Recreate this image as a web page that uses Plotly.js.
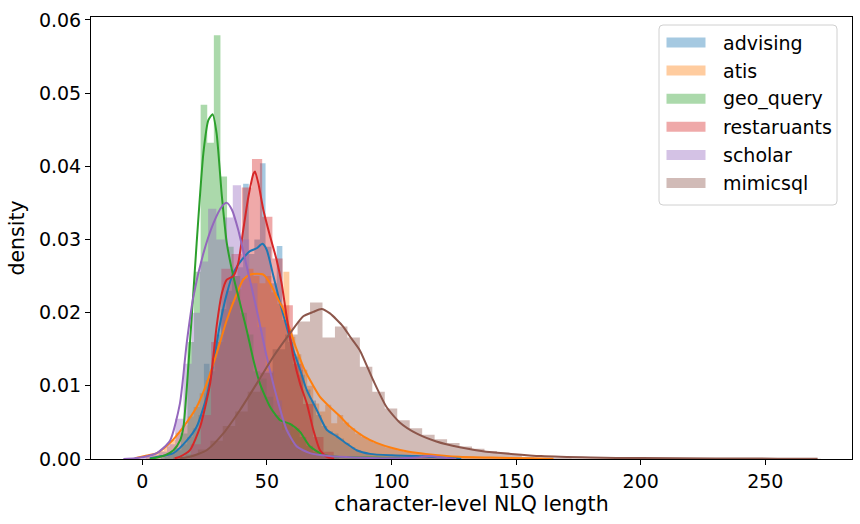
<!DOCTYPE html>
<html><head><meta charset="utf-8">
<script src="https://cdn.plot.ly/plotly-3.0.1.min.js"></script>
<style>html,body{margin:0;padding:0;background:#fff}#chart{width:860px;height:524px}</style>
</head><body><div id="chart"></div>
<script>
// ---- categories & colours ----
const datasetNames = ['advising', 'atis', 'geo_query', 'restaruants', 'scholar', 'mimicsql'];
const datasetColors = ['#1f77b4', '#ff7f0e', '#2ca02c', '#d62728', '#9467bd', '#8c564b'];
const datasetFills = ['rgba(31,119,180,0.4)', 'rgba(255,127,14,0.4)', 'rgba(44,160,44,0.4)',
  'rgba(214,39,40,0.4)', 'rgba(148,103,189,0.4)', 'rgba(140,86,75,0.4)'];

// ---- histogram data (first bin edge, bin width, density per bin) ----
const advisingBinStart = 8.95, advisingBinWidth = 2.25;
const advisingDensity = [0.0004, 0.0008, 0.0012, 0.0020, 0.0030, 0.0042, 0.0060, 0.0130, 0.0120, 0.0170,
  0.0205, 0.0230, 0.0250, 0.0262, 0.0376, 0.0280, 0.0300, 0.0404, 0.0290, 0.0240,
  0.0291, 0.0190, 0.0160, 0.0140, 0.0115, 0.0095, 0.0080, 0.0060, 0.0045, 0.0038,
  0.0035, 0.0028, 0.0022, 0.0016, 0.0012, 0.0009, 0.0007, 0.0006, 0.0005, 0.0005,
  0.0004, 0.0004, 0.0003, 0.0003, 0.0003, 0.0002, 0.0002, 0.0002, 0.0001, 0.0001, 0.0001];

const atisBinStart = 1.4, atisBinWidth = 2.4;
const atisDensity = [0.0004, 0.0007, 0.0011, 0.0017, 0.0026, 0.0036, 0.0046, 0.0058, 0.0071, 0.0090,
  0.0108, 0.0138, 0.0160, 0.0190, 0.0215, 0.0232, 0.0247, 0.0260, 0.0250, 0.0240,
  0.0250, 0.0228, 0.0212, 0.0256, 0.0167, 0.0143, 0.0122, 0.0100, 0.0076, 0.0065,
  0.0074, 0.0049, 0.0060, 0.0050, 0.0042, 0.0035, 0.0030, 0.0026, 0.0022, 0.0019,
  0.0016, 0.0014, 0.0012, 0.0010, 0.0009, 0.0008, 0.0007, 0.0006, 0.0005, 0.0005,
  0.0004, 0.0004, 0.0003, 0.0003, 0.0003, 0.0002, 0.0002, 0.0002, 0.0002, 0.0001,
  0.0001, 0.0001, 0.0001, 0.0001, 0.0001, 0.0001];

const geoBinStart = 7.5, geoBinWidth = 2.65;
const geoDensity = [0.0003, 0.0008, 0.0015, 0.0035, 0.0160, 0.0256, 0.0484, 0.0432, 0.0579, 0.0386,
  0.0290, 0.0250, 0.0200, 0.0170, 0.0120, 0.0110, 0.0085, 0.0060, 0.0050, 0.0048,
  0.0042, 0.0030, 0.0018, 0.0010, 0.0006, 0.0003, 0.0002];

const restaurantsBinStart = 19.4, restaurantsBinWidth = 4.1;
const restaurantsDensity = [0.0020, 0.0060, 0.0160, 0.0260, 0.0280, 0.0371, 0.0410, 0.0331, 0.0274, 0.0210,
  0.0130, 0.0075, 0.0030, 0.0010];

const scholarBinStart = 0.0, scholarBinWidth = 3.3;
const scholarDensity = [0.0003, 0.0005, 0.0010, 0.0020, 0.0055, 0.0130, 0.0200, 0.0270, 0.0342, 0.0300,
  0.0330, 0.0374, 0.0300, 0.0240, 0.0180, 0.0120, 0.0080, 0.0040, 0.0020, 0.0012,
  0.0008, 0.0005, 0.0004, 0.0003, 0.0002, 0.0002, 0.0001, 0.0001, 0.0001, 0.0001,
  0.0001, 0.0001, 0.0001, 0.0001, 0.0006, 0.0001];

const mimicBinStart = 12.3, mimicBinWidth = 5.0;
const mimicDensity = [0.0002, 0.0006, 0.0013, 0.0025, 0.0045, 0.0065, 0.0092, 0.0118, 0.0150, 0.0170,
  0.0188, 0.0214, 0.0166, 0.0181, 0.0166, 0.0126, 0.0092, 0.0069, 0.0053, 0.0042,
  0.0033, 0.0027, 0.0022, 0.0017, 0.0014, 0.0011, 0.0009, 0.0006, 0.0003, 0.0002,
  0.0002, 0.0002, 0.0001, 0.0001, 0.0001, 0.0001, 0.0001, 0.00005, 0.00005, 0.00005,
  0.00005, 0.00005, 0.00005, 0.00005, 0.00005, 0.00003, 0.00003, 0.00003, 0.00003, 0.00003,
  0.00003, 0.00003];

// ---- KDE curves (x, density) ----
const advisingKdeX = [3, 8, 12.5, 17.8, 21.8, 25.8, 28.5, 31.2, 33.9, 36.5, 39.9, 43.2, 45.9, 48.2, 49.9, 52.6, 55.3, 57.9, 60.6, 63.3, 66, 70, 74, 78, 82, 86, 91.4, 100, 110, 120, 128];
const advisingKdeY = [0.0001, 0.0004, 0.0008, 0.0025, 0.0044, 0.0085, 0.0131, 0.0185, 0.0226, 0.0254, 0.0272, 0.0284, 0.0288, 0.0294, 0.0286, 0.025, 0.0213, 0.0181, 0.0149, 0.0122, 0.0094, 0.0067, 0.004, 0.0031, 0.0021, 0.0012, 0.0007, 0.0005, 0.0004, 0.0002, 0.0001];

const atisKdeX = [-3, 1, 5.8, 11.1, 16.5, 21.8, 25.8, 29.8, 33.9, 37.9, 40.5, 43.2, 45.9, 48.6, 51.3, 53.9, 56.6, 59.3, 62, 64.6, 67.3, 71.3, 75.3, 79.4, 83.4, 88.7, 94, 100.3, 107, 113.7, 127, 140, 155, 165];
const atisKdeY = [0.0001, 0.0004, 0.0008, 0.0022, 0.0044, 0.0071, 0.0103, 0.0144, 0.019, 0.0226, 0.0245, 0.0252, 0.0253, 0.0252, 0.024, 0.0222, 0.0204, 0.0176, 0.0149, 0.0126, 0.0108, 0.0085, 0.0071, 0.0058, 0.0044, 0.0031, 0.0022, 0.0015, 0.001, 0.0007, 0.0003, 0.0002, 0.0001, 0.00005];

const geoKdeX = [3, 5.8, 9, 12.5, 15.1, 16.5, 19.1, 21.8, 24.5, 26.5, 28.2, 29.8, 31.9, 33.9, 36.5, 39.2, 41.9, 44.6, 47.2, 51.3, 55.3, 59.3, 63.3, 67.3, 72.7, 78, 90, 105];
const geoKdeY = [0.0, 0.0002, 0.0005, 0.0012, 0.0025, 0.0044, 0.0158, 0.0295, 0.0418, 0.0463, 0.0471, 0.0445, 0.036, 0.0295, 0.025, 0.0213, 0.0176, 0.0135, 0.0103, 0.0071, 0.0053, 0.0048, 0.0037, 0.0017, 0.0006, 0.0003, 0.0002, 0.0001];

const restaurantsKdeX = [13, 15, 19.1, 23.2, 27.2, 29.8, 31.9, 33.9, 36.5, 38.5, 40.5, 42.6, 44.6, 45.2, 46.6, 48.6, 51.3, 53.9, 55.9, 57.9, 60.6, 63.3, 66, 68.6, 71.3, 74, 77];
const restaurantsKdeY = [0.0001, 0.0003, 0.0012, 0.0044, 0.0103, 0.0181, 0.0226, 0.0245, 0.025, 0.0268, 0.0313, 0.0359, 0.039, 0.0393, 0.0376, 0.034, 0.0304, 0.0272, 0.024, 0.0195, 0.014, 0.0103, 0.0076, 0.004, 0.0012, 0.0003, 0.0001];

const scholarKdeX = [-7.6, -3, 1, 5.8, 11.1, 15.1, 17.8, 20.5, 24.5, 28.5, 31.9, 33.9, 35.9, 38.5, 41.9, 45.9, 49.9, 53.9, 57.9, 62, 67.3, 75, 85, 100, 110, 115, 120, 126];
const scholarKdeY = [0.0, 0.0001, 0.0003, 0.0008, 0.0025, 0.0076, 0.0158, 0.0222, 0.0281, 0.0322, 0.0345, 0.035, 0.0341, 0.0313, 0.0263, 0.0204, 0.014, 0.0085, 0.004, 0.0017, 0.0008, 0.0004, 0.0002, 0.0001, 0.0002, 0.0004, 0.0002, 0.0];

const mimicKdeX = [15, 19.1, 25.8, 32.5, 39.2, 45.9, 52.6, 59.3, 64.6, 68.6, 71.9, 75.3, 80.6, 83.4, 87.2, 92.6, 98, 103.3, 110, 118, 127.4, 138, 148, 160, 180, 200, 230, 255, 271];
const mimicKdeY = [0.0001, 0.0003, 0.0012, 0.0035, 0.0067, 0.0103, 0.014, 0.0172, 0.0195, 0.0201, 0.0205, 0.0199, 0.0181, 0.0167, 0.0149, 0.0108, 0.0071, 0.005, 0.0035, 0.0024, 0.0016, 0.001, 0.0007, 0.0004, 0.0002, 0.00012, 0.00008, 0.00005, 0.00003];

// ---- axis ticks ----
const xTickVals = [0, 50, 100, 150, 200, 250];
const yTickVals = [0.00, 0.01, 0.02, 0.03, 0.04, 0.05, 0.06];

const hists = [
  [advisingBinStart, advisingBinWidth, advisingDensity],
  [atisBinStart, atisBinWidth, atisDensity],
  [geoBinStart, geoBinWidth, geoDensity],
  [restaurantsBinStart, restaurantsBinWidth, restaurantsDensity],
  [scholarBinStart, scholarBinWidth, scholarDensity],
  [mimicBinStart, mimicBinWidth, mimicDensity]
];
const kdes = [
  [advisingKdeX, advisingKdeY], [atisKdeX, atisKdeY], [geoKdeX, geoKdeY],
  [restaurantsKdeX, restaurantsKdeY], [scholarKdeX, scholarKdeY], [mimicKdeX, mimicKdeY]
];

const FONT = 'DejaVu Sans, sans-serif';
const FS = 19;
const FT = 20.5;
const traces = [];
// histogram bars: drawn as one seamless step outline per dataset (bin edges -> densities)
hists.forEach((h, i) => {
  const [start, w, dens] = h;
  const edges = dens.map((_, k) => start + w * k).concat([start + w * dens.length]);
  const ys = dens.concat([dens[dens.length - 1]]);
  traces.push({
    type: 'scatter', mode: 'lines',
    x: edges, y: ys,
    line: {shape: 'hv', width: 0, color: datasetFills[i]},
    fill: 'tozeroy', fillcolor: datasetFills[i],
    name: datasetNames[i],
    showlegend: false, hoverinfo: 'skip'
  });
});
kdes.forEach((k, i) => {
  traces.push({
    type: 'scatter', mode: 'lines',
    x: k[0], y: k[1],
    line: {color: datasetColors[i], width: 2, shape: 'spline', smoothing: 0.6},
    showlegend: false, hoverinfo: 'skip'
  });
});

// plot area in pixels
const L = 91, R = 8, T = 17, B = 65, W = 860, Hh = 524;
const pw = W - L - R, ph = Hh - T - B;
const px = v => (v - L) / pw;
const py = v => (Hh - B - v) / ph;

// custom legend (matplotlib-style wide patches)
const shapes = [];
const annotations = [];
const bx0 = 659, bx1 = 837, by0 = 25, by1 = 205, rr = 4;
const rx = rr / pw, ry = rr / ph;
const X0 = px(bx0), X1 = px(bx1), Y0 = py(by1), Y1 = py(by0);
shapes.push({
  type: 'path', xref: 'paper', yref: 'paper',
  path: `M ${X0 + rx},${Y0} L ${X1 - rx},${Y0} Q ${X1},${Y0} ${X1},${Y0 + ry} L ${X1},${Y1 - ry} Q ${X1},${Y1} ${X1 - rx},${Y1} L ${X0 + rx},${Y1} Q ${X0},${Y1} ${X0},${Y1 - ry} L ${X0},${Y0 + ry} Q ${X0},${Y0} ${X0 + rx},${Y0} Z`,
  fillcolor: 'rgba(255,255,255,0.8)', line: {color: '#d0d0d0', width: 1}
});
datasetNames.forEach((name, i) => {
  const cy = 42.5 + i * 28.1;
  shapes.push({
    type: 'rect', xref: 'paper', yref: 'paper',
    x0: px(666.5), x1: px(705.5), y0: py(cy + 5), y1: py(cy - 5),
    fillcolor: datasetFills[i], line: {width: 0}
  });
  annotations.push({
    xref: 'paper', yref: 'paper', x: px(721), y: py(cy),
    xanchor: 'left', yanchor: 'middle', showarrow: false,
    text: name, font: {family: FONT, size: FS, color: '#000'}
  });
});

const layout = {
  width: W, height: Hh,
  margin: {l: L, r: R, t: T, b: B, pad: 0},
  paper_bgcolor: '#fff', plot_bgcolor: '#fff',
  showlegend: false,
  font: {family: FONT, size: FS, color: '#000'},
  xaxis: {
    range: [-20.6, 284.8], tickvals: xTickVals, ticktext: xTickVals.map(String),
    ticks: 'outside', ticklen: 5, tickwidth: 1, tickcolor: '#000',
    showline: true, linecolor: '#000', linewidth: 1, mirror: true,
    showgrid: false, zeroline: false,
    tickfont: {family: FONT, size: FS, color: '#000'},
    title: {text: 'character-level NLQ length', font: {family: FONT, size: FT, color: '#000'}, standoff: 3},
    automargin: false
  },
  yaxis: {
    range: [0, 0.0604], tickvals: yTickVals, ticktext: yTickVals.map(v => v.toFixed(2)),
    ticks: 'outside', ticklen: 5, tickwidth: 1, tickcolor: '#000',
    showline: true, linecolor: '#000', linewidth: 1, mirror: true,
    showgrid: false, zeroline: false,
    tickfont: {family: FONT, size: FS, color: '#000'},
    title: {text: 'density', font: {family: FONT, size: FT, color: '#000'}, standoff: 8},
    automargin: false
  },
  shapes: shapes,
  annotations: annotations,
  hovermode: false
};

Plotly.newPlot('chart', traces, layout, {displayModeBar: false, staticPlot: true});
</script>
</body></html>
